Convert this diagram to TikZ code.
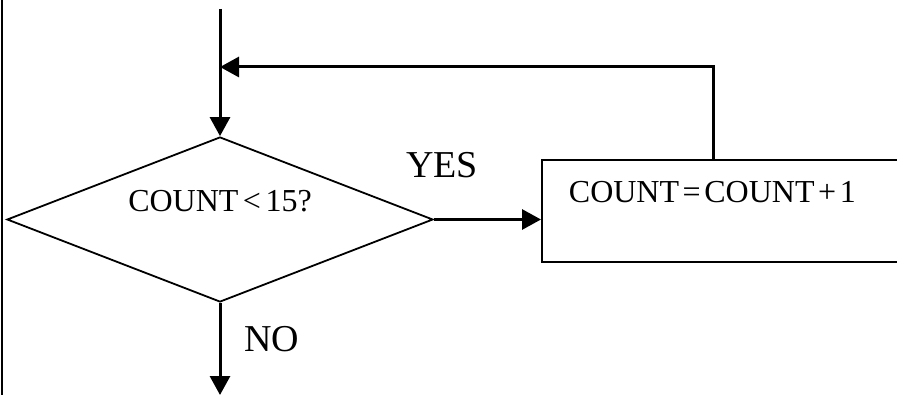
\documentclass[tikz,border=0pt]{standalone}
\usepackage{fontspec}
\setmainfont{Liberation Serif}
\usetikzlibrary{arrows.meta,shapes.geometric}
\newcommand\decfont{\fontsize{32}{38}\selectfont\spaceskip=4.5pt plus 1pt\relax}
\newcommand\procfont{\fontsize{32}{38}\selectfont}
\newcommand\tightsp{\spaceskip=3.6pt plus 1pt\relax}
\begin{document}
\begin{tikzpicture}[x=1pt,y=-1pt,
  flow/.style={line width=3pt,-{Triangle[length=19pt,width=20pt]}},
  plain/.style={line width=3pt},
  decbox/.style={diamond,draw,line width=1.8pt,inner sep=0pt,aspect=2.58,
    minimum width=426pt,minimum height=165pt,
    font=\decfont,text height=21pt,text depth=36pt},
  procbox/.style={rectangle,draw,line width=1.8pt,inner xsep=27pt,inner ysep=0pt,
    minimum height=102pt,text width=352pt,align=left,
    font=\procfont,text height=22pt,text depth=38pt},
  lbl/.style={inner sep=0pt,anchor=base west,font=\fontsize{38}{44}\selectfont}]
\useasboundingbox (0,0) rectangle (897,395);
\clip (0,0) rectangle (897,395);
\draw[line width=2pt] (2,0) -- (2,395);
\coordinate (start) at (220,9);
\coordinate (join) at (220,67);
\coordinate (up) at (713,67);
\coordinate (stop) at (220,395);
\node[decbox] (dec) at (220,219.5) {COUNT < 15?};
\node[procbox,anchor=west] (inc) at (541,211) {\tightsp COUNT = COUNT + 1};
\draw[flow] (start) -- (dec.north);
\draw[flow] (dec.east) -- (dec.east -| inc.west);
\draw[plain,-{Triangle[length=19pt,width=20pt]}] (inc.north -| up) -- (up) -- (join);
\draw[flow] (dec.south) -- (stop);
\node[lbl] (yes) at (406,178) {YES};
\node[lbl] (no) at (244,352) {NO};
\end{tikzpicture}
\end{document}
